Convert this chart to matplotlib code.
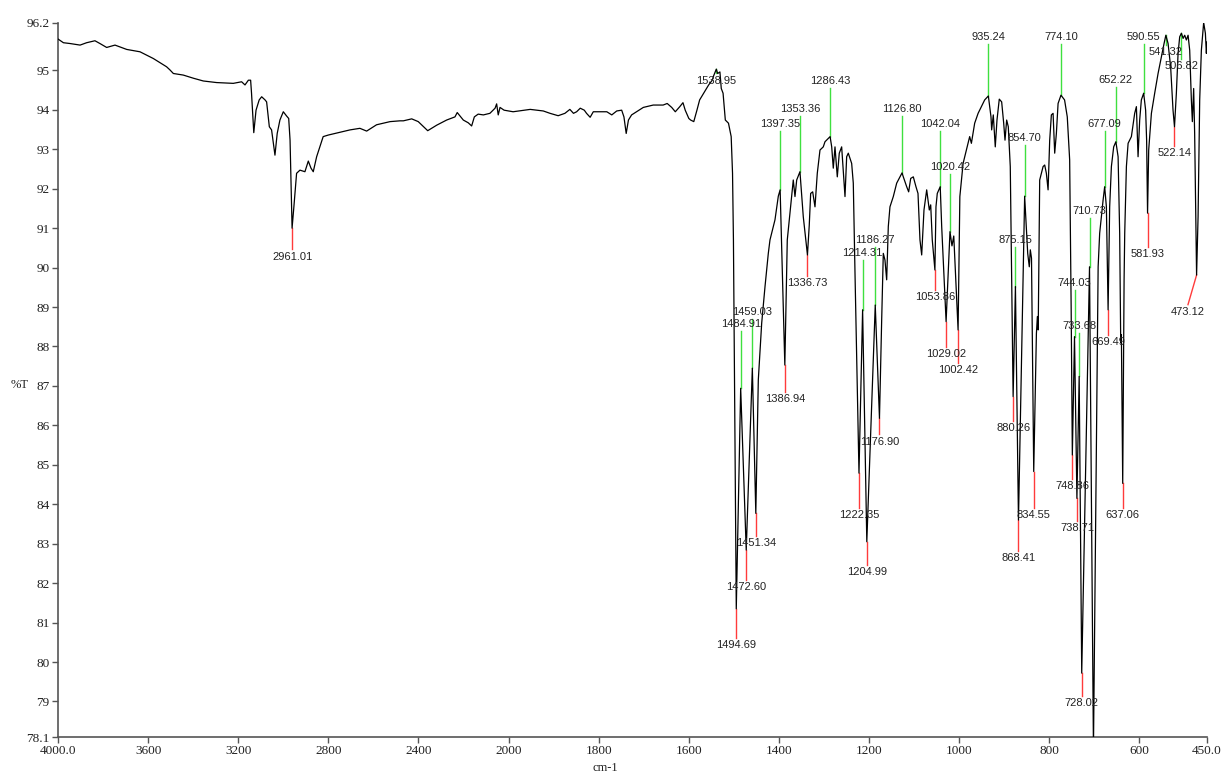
import numpy as np
import matplotlib
matplotlib.use("Agg")
import matplotlib.pyplot as plt

# ---------------- data ----------------
wavenumber = [
    3999, 3976, 3947, 3902, 3873, 3836, 3814, 3784, 3747, 3695, 3636, 3577, 3518, 3503, 3488, 3444,
    3399, 3355, 3296, 3222, 3185, 3170, 3155, 3145, 3141, 3131, 3121, 3107, 3096, 3081, 3074, 3062,
    3052, 3037, 3027, 3015, 3000, 2985, 2976, 2970, 2961.01, 2953, 2941, 2926, 2904, 2889, 2877, 2867,
    2852, 2823, 2800, 2704, 2660, 2630, 2586, 2526, 2482, 2467, 2430, 2401, 2359, 2319, 2275, 2238,
    2228, 2201, 2179, 2164, 2152, 2135, 2112, 2083, 2060, 2053, 2046, 2038, 2020, 1990, 1952, 1923,
    1908, 1890, 1875, 1864, 1856, 1849, 1841, 1832, 1827, 1819, 1812, 1797, 1782, 1771, 1760, 1749,
    1744, 1739, 1734, 1727, 1716, 1701, 1679, 1657, 1648, 1638, 1630, 1620, 1613, 1608, 1600, 1596,
    1589, 1582, 1576, 1563, 1556, 1548, 1545, 1538.95, 1536, 1531, 1528, 1524, 1519, 1512, 1506, 1503,
    1501, 1494.69, 1484.91, 1472.60, 1459.03, 1451.34, 1445.8, 1438.3, 1430.9, 1423.6, 1419.9, 1408.8,
    1401.4, 1397.35, 1386.94, 1381.5, 1375.5, 1368.2, 1364.4, 1360.6, 1353.36, 1346.0, 1336.73, 1332.7,
    1329.6, 1325.1, 1320.0, 1314.9, 1308.9, 1301.6, 1297.8, 1286.43, 1282.9, 1279.4, 1275.6, 1270.5,
    1266.1, 1260.8, 1253.4, 1249.7, 1246.1, 1238.6, 1235.0, 1231.2, 1222.35, 1214.31, 1204.99, 1186.27,
    1176.90, 1172.0, 1168.4, 1164.7, 1160.9, 1157.3, 1153.6, 1146.2, 1138.7, 1126.80, 1124.0, 1116.5,
    1112.1, 1107.6, 1101.8, 1095.9, 1091.4, 1087.0, 1083.2, 1078.1, 1072.1, 1066.3, 1063.2, 1059.7,
    1053.86, 1051.5, 1048.6, 1042.04, 1038.8, 1029.02, 1020.42, 1016, 1012, 1002.42, 998.5, 991.3,
    984.0, 976.7, 972.9, 965.6, 958.0, 950.7, 943.4, 935.24, 929.4, 927.9, 924.3, 919.9,
    916.1, 911.0, 905.7, 901.2, 898.3, 894.6, 891.0, 886.6, 880.26, 875.15, 868.41, 854.70,
    847.9, 844.4, 842.1, 839.5, 834.55, 828.6, 826.4, 824.6, 821.3, 813.8, 810.2, 806.5,
    802.7, 799.1, 795.4, 791.6, 788.0, 784.3, 780.5, 774.10, 766.1, 760.1, 754.8, 751.5,
    748.86, 744.03, 738.71, 733.68, 728.02, 710.73, 702, 691.6, 688.2, 684.4, 680.6, 677.09,
    673.3, 669.49, 666.0, 662.2, 657.1, 652.22, 647.3, 643.8, 641.5, 640.0, 637.06, 634.0,
    632.6, 628.9, 625.1, 617.8, 610.5, 606.7, 603.0, 599.4, 595.7, 590.55, 586.2, 584.0,
    581.93, 579.4, 573.4, 566.1, 558.6, 551.3, 545.3, 541.32, 536.4, 530.7, 525.4, 522.14,
    518.0, 514.2, 510.6, 506.82, 503.0, 499.5, 495.8, 492.0, 488.4, 484.7, 482.5, 479.6,
    477.4, 473.12, 469.8, 466.2, 462.5, 457.4, 453.6, 451.4, 450,
]
transmittance = [
    95.79, 95.70, 95.68, 95.64, 95.70, 95.75, 95.68, 95.58, 95.64, 95.53, 95.47, 95.30, 95.09, 95.01, 94.92, 94.88,
    94.80, 94.73, 94.69, 94.67, 94.71, 94.63, 94.75, 94.75, 94.42, 93.42, 93.99, 94.25, 94.33, 94.25, 94.20, 93.57,
    93.49, 92.85, 93.40, 93.74, 93.95, 93.84, 93.78, 93.23, 91.00, 91.54, 92.39, 92.47, 92.43, 92.70, 92.52, 92.43,
    92.81, 93.32, 93.36, 93.49, 93.53, 93.46, 93.62, 93.70, 93.72, 93.72, 93.77, 93.70, 93.47, 93.61, 93.74, 93.82,
    93.93, 93.74, 93.67, 93.59, 93.82, 93.89, 93.87, 93.91, 94.04, 94.15, 93.87, 94.06, 93.99, 93.95, 94.01, 93.97,
    93.91, 93.85, 93.91, 94.01, 93.91, 93.95, 94.04, 93.99, 93.91, 93.81, 93.95, 93.95, 93.95, 93.87, 93.97, 93.99,
    93.82, 93.40, 93.74, 93.87, 93.95, 94.06, 94.12, 94.12, 94.16, 94.06, 93.95, 94.08, 94.18, 93.99, 93.78, 93.74,
    93.70, 93.99, 94.25, 94.50, 94.63, 94.75, 94.86, 95.03, 94.92, 94.96, 94.54, 94.42, 93.74, 93.66, 93.32, 92.39,
    90.70, 81.35, 86.94, 82.84, 87.45, 83.77, 87.15, 88.59, 89.52, 90.36, 90.70, 91.21,
    91.81, 91.97, 87.53, 90.70, 91.38, 92.22, 91.80, 92.22, 92.43, 91.29, 90.32, 91.08,
    91.88, 91.92, 91.54, 92.39, 92.98, 93.06, 93.19, 93.32, 93.06, 92.52, 93.06, 92.30,
    92.90, 93.06, 91.80, 92.81, 92.90, 92.64, 92.14, 89.86, 84.79, 88.93, 83.05, 89.05,
    86.18, 88.67, 90.36, 90.19, 89.69, 91.04, 91.54, 91.80, 92.14, 92.40, 92.30, 92.05,
    91.92, 92.26, 92.30, 92.05, 91.88, 90.70, 90.32, 91.46, 91.97, 91.46, 91.59, 90.70,
    89.94, 91.54, 91.88, 92.05, 91.04, 88.63, 90.91, 90.55, 90.80, 88.42, 91.80, 92.64,
    92.98, 93.32, 93.15, 93.66, 93.91, 94.08, 94.25, 94.35, 93.82, 93.49, 93.87, 93.06,
    93.74, 94.27, 94.20, 93.66, 93.23, 93.74, 93.57, 92.56, 86.73, 89.52, 83.60, 91.81,
    90.36, 90.02, 90.45, 90.24, 84.83, 88.33, 88.76, 88.42, 92.22, 92.56, 92.60, 92.39,
    91.97, 93.23, 93.87, 93.91, 92.90, 93.40, 94.16, 94.37, 94.25, 93.82, 92.73, 89.0,
    85.25, 88.25, 84.15, 87.24, 79.72, 90.02, 77.8, 90.02, 90.87, 91.29, 91.71, 92.05,
    91.54, 88.93, 91.54, 92.56, 93.06, 93.19, 92.81, 90.87, 88.10, 88.30, 84.53, 89.69,
    90.87, 92.56, 93.15, 93.32, 93.91, 94.08, 92.81, 93.74, 94.25, 94.42, 93.99, 93.23,
    91.38, 92.98, 93.91, 94.42, 94.92, 95.34, 95.68, 95.89, 95.68, 95.09, 93.99, 93.57,
    94.42, 95.43, 95.85, 95.94, 95.81, 95.89, 95.77, 95.89, 95.51, 94.25, 93.70, 94.54,
    93.40, 89.81, 91.29, 94.25, 95.51, 96.21, 95.94, 95.43, 95.72,
]

# labelled peaks
peak_wn = [2961.01, 1538.95, 1494.69, 1484.91, 1472.60, 1459.03, 1451.34, 1397.35, 1386.94, 1353.36,
           1336.73, 1286.43, 1222.35, 1214.31, 1204.99, 1186.27, 1176.90, 1126.80, 1053.86, 1042.04,
           1029.02, 1020.42, 1002.42, 935.24, 880.26, 875.15, 868.41, 854.70, 834.55, 774.10,
           748.86, 744.03, 738.71, 733.68, 728.02, 710.73, 677.09, 669.49, 652.22, 637.06,
           590.55, 581.93, 541.32, 522.14, 506.82, 473.12]
peak_T = [91.00, 95.03, 81.35, 86.94, 82.84, 87.45, 83.77, 91.97, 87.53, 92.43,
          90.32, 93.32, 84.79, 88.93, 83.05, 89.05, 86.18, 92.40, 89.94, 92.05,
          88.63, 90.91, 88.42, 94.35, 86.73, 89.52, 83.60, 91.81, 84.83, 94.37,
          85.25, 88.25, 84.15, 87.24, 79.72, 90.02, 92.05, 88.93, 93.19, 84.53,
          94.42, 91.38, 95.89, 93.57, 95.94, 89.81]
peak_kind = ["min", "max", "min", "max", "min", "max", "min", "max", "min", "max",
             "min", "max", "min", "max", "min", "max", "min", "max", "min", "max",
             "min", "max", "min", "max", "min", "max", "min", "max", "min", "max",
             "min", "max", "min", "max", "min", "max", "max", "min", "max", "min",
             "max", "min", "max", "min", "max", "min"]
peak_labels = ["%.2f" % w for w in peak_wn]

# label anchor positions (layout)
label_T = [90.28, 94.74, 80.44, 88.57, 81.91, 88.87, 83.01, 93.64, 86.67, 94.01,
           89.60, 94.74, 83.73, 90.36, 82.29, 90.70, 85.59, 94.01, 89.26, 93.64,
           87.81, 92.56, 87.40, 95.85, 85.94, 90.70, 82.63, 93.28, 83.73, 95.85,
           84.47, 89.60, 83.39, 88.53, 78.96, 91.44, 93.64, 88.12, 94.76, 83.73,
           95.85, 90.34, 95.47, 92.91, 95.11, 88.88]
label_wn = list(peak_wn)
label_wn[-1] = 492.2

x_ticks = [4000, 3600, 3200, 2800, 2400, 2000, 1800, 1600, 1400, 1200, 1000, 800, 600, 450]
x_ticklabels = ["4000.0", "3600", "3200", "2800", "2400", "2000", "1800", "1600", "1400",
                "1200", "1000", "800", "600", "450.0"]
y_ticks = [78.1, 79, 80, 81, 82, 83, 84, 85, 86, 87, 88, 89, 90, 91, 92, 93, 94, 95, 96.2]
y_ticklabels = ["78.1", "79", "80", "81", "82", "83", "84", "85", "86", "87", "88", "89",
                "90", "91", "92", "93", "94", "95", "96.2"]

# ---------------- plot ----------------
W, H = 1223, 776
fig = plt.figure(figsize=(W / 100, H / 100), dpi=100)
ax = fig.add_axes([58 / W, 1 - 737 / H, (1207 - 58) / W, (737 - 23) / H])


def fwd(w):
    w = np.asarray(w, dtype=float)
    return np.where(w > 2000, 2000 + (w - 2000) / 2.0, w)


def inv(u):
    u = np.asarray(u, dtype=float)
    return np.where(u > 2000, 2000 + (u - 2000) * 2.0, u)


ax.set_xscale("function", functions=(fwd, inv))
ax.set_xlim(4000, 450)
ax.set_ylim(78.1, 96.2)

ax.plot(wavenumber, transmittance, color="black", lw=0.9, zorder=3)

green = "#3fe03f"
red = "#ff3b3b"
gap = 0.18
for w, tp, kind, wl, tl, txt in zip(peak_wn, peak_T, peak_kind, label_wn, label_T, peak_labels):
    col = green if kind == "max" else red
    end = tl + gap if tl < tp else tl - gap
    ax.plot([w, wl], [tp, end], color=col, lw=1.0, zorder=2)
    ax.text(wl, tl, txt, ha="center", va="center", fontsize=8,
            family=["Liberation Sans Narrow", "Liberation Sans", "DejaVu Sans"],
            color="#222222", zorder=4)

ax.set_xticks(x_ticks)
ax.set_xticklabels(x_ticklabels)
ax.set_yticks(y_ticks)
ax.set_yticklabels(y_ticklabels)
ax.minorticks_off()

for lab in ax.get_xticklabels() + ax.get_yticklabels():
    lab.set_family(["Liberation Serif", "DejaVu Serif"])
    lab.set_fontsize(9.5)
    lab.set_color("#222222")

for s in ("top", "right"):
    ax.spines[s].set_visible(False)
for s in ("left", "bottom"):
    ax.spines[s].set_color("#555555")
    ax.spines[s].set_linewidth(1.2)
ax.tick_params(direction="out", length=4, width=1, color="#555555", pad=2)

fig.text(20 / W, 1 - 385 / H, "%T", ha="center", va="center", fontsize=9,
         family=["Liberation Serif", "DejaVu Serif"], color="#222222")
fig.text(605 / W, 1 - 768 / H, "cm-1", ha="center", va="center", fontsize=9,
         family=["Liberation Serif", "DejaVu Serif"], color="#222222")

fig.savefig("out.png", dpi=100)
